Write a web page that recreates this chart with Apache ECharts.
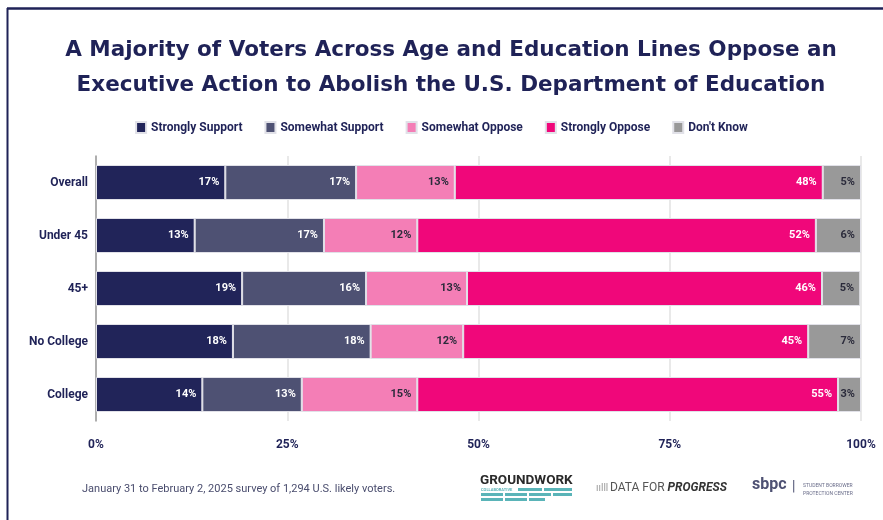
<!DOCTYPE html>
<html>
<head>
<meta charset="utf-8">
<script src="https://cdn.jsdelivr.net/npm/echarts@6/dist/echarts.min.js"></script>
<style>
html,body{margin:0;padding:0;background:#fff;}
#c{width:883px;height:520px;}
</style>
</head>
<body>
<div id="c"></div>
<script>
var categories = ['Overall', 'Under 45', '45+', 'No College', 'College'];
var seriesNames = ['Strongly Support', 'Somewhat Support', 'Somewhat Oppose', 'Strongly Oppose', "Don't Know"];
var stronglySupport = [16.9, 12.9, 19.1, 17.9, 13.9];
var somewhatSupport = [17.1, 16.9, 16.2, 18.0, 13.0];
var somewhatOppose = [12.9, 12.2, 13.2, 12.1, 15.1];
var stronglyOppose = [48.1, 52.1, 46.4, 45.1, 55.0];
var dontKnow = [5.0, 5.9, 5.0, 6.9, 3.0];
var xTicks = [0, 25, 50, 75, 100];

var colors = ['#212459', '#4e5173', '#f47eb6', '#f0077a', '#999999'];
var labelColors = ['#ffffff', '#ffffff', '#2b2b3b', '#ffffff', '#2b2b3b'];
var values = [stronglySupport, somewhatSupport, somewhatOppose, stronglyOppose, dontKnow];
var NAVY = '#1f2257';
var FONT = 'Roboto, "Noto Sans", sans-serif';

var chart = echarts.init(document.getElementById('c'));
var series = seriesNames.map(function (name, i) {
  return {
    name: name,
    type: 'bar',
    stack: 'total',
    barWidth: 35,
    data: values[i].slice().reverse(),
    itemStyle: { color: colors[i], borderColor: 'rgba(225,225,232,1)', borderWidth: 1 },
    label: {
      show: true,
      position: 'insideRight',
      distance: 6,
      color: labelColors[i],
      fontFamily: FONT,
      fontWeight: 'bold',
      fontSize: 11,
      formatter: function (p) { return Math.round(p.value) + '%'; }
    }
  };
});

chart.setOption({
  backgroundColor: '#ffffff',
  animation: false,
  title: {
    text: 'A Majority of Voters Across Age and Education Lines Oppose an\nExecutive Action to Abolish the U.S. Department of Education',
    left: 446,
    textAlign: 'center',
    top: 28,
    textStyle: { color: NAVY, fontFamily: '"DejaVu Sans", sans-serif', fontWeight: 'bold', fontSize: 21.5, lineHeight: 35 }
  },
  legend: {
    top: 116,
    left: 'center',
    itemWidth: 10,
    itemHeight: 11,
    itemGap: 22,
    icon: 'rect',
    data: seriesNames,
    textStyle: { color: NAVY, fontFamily: FONT, fontWeight: 'bold', fontSize: 12 }
  },
  grid: { left: 96, right: 22, top: 156, bottom: 99 },
  xAxis: {
    type: 'value',
    min: 0,
    max: 100,
    interval: 25,
    axisLine: { show: false },
    axisTick: { show: false },
    splitLine: { show: true, lineStyle: { color: '#e2e2e2', width: 1.5 } },
    axisLabel: {
      margin: 18,
      color: NAVY,
      fontFamily: FONT,
      fontWeight: 'bold',
      fontSize: 12,
      formatter: function (v) { return xTicks.indexOf(v) >= 0 ? v + '%' : ''; }
    }
  },
  yAxis: {
    type: 'category',
    data: categories.slice().reverse(),
    axisLine: { show: true, lineStyle: { color: '#9a9a9a', width: 1.5 } },
    axisTick: { show: false },
    axisLabel: { margin: 8, color: NAVY, fontFamily: FONT, fontWeight: 'bold', fontSize: 12 }
  },
  series: series,
  graphic: [
    { type: 'line', shape: { x1: 7, y1: 8.5, x2: 883, y2: 8.5 }, style: { stroke: NAVY, lineWidth: 2.5 } },
    { type: 'line', shape: { x1: 7.5, y1: 8, x2: 7.5, y2: 520 }, style: { stroke: NAVY, lineWidth: 2 } },
    { type: 'text', left: 82, top: 484, style: { text: 'January 31 to February 2, 2025 survey of 1,294 U.S. likely voters.', fill: '#4a4d6e', font: '11px ' + FONT } },
    { type: 'text', left: 480, top: 474, style: { text: 'GROUNDWORK', fill: '#2a2a2a', font: 'bold 13.5px ' + FONT } },
    { type: 'text', left: 481, top: 488, style: { text: 'COLLABORATIVE', fill: '#5ab4b8', font: 'bold 4px ' + FONT } },
    { type: 'rect', shape: { x: 518, y: 488, width: 24, height: 3 }, style: { fill: '#5ab4b8' } },
    { type: 'rect', shape: { x: 544, y: 488, width: 28, height: 3 }, style: { fill: '#5ab4b8' } },
    { type: 'rect', shape: { x: 481, y: 493, width: 22, height: 3 }, style: { fill: '#5ab4b8' } },
    { type: 'rect', shape: { x: 505, y: 493, width: 22, height: 3 }, style: { fill: '#5ab4b8' } },
    { type: 'rect', shape: { x: 529, y: 493, width: 22, height: 3 }, style: { fill: '#5ab4b8' } },
    { type: 'rect', shape: { x: 553, y: 493, width: 19, height: 3 }, style: { fill: '#5ab4b8' } },
    { type: 'rect', shape: { x: 481, y: 498, width: 22, height: 3 }, style: { fill: '#5ab4b8' } },
    { type: 'rect', shape: { x: 505, y: 498, width: 22, height: 3 }, style: { fill: '#5ab4b8' } },
    { type: 'rect', shape: { x: 529, y: 498, width: 16, height: 3 }, style: { fill: '#5ab4b8' } },
    { type: 'text', left: 596, top: 483, style: { text: 'ıılll', fill: '#9a9a9a', font: '10px ' + FONT } },
    { type: 'text', left: 610, top: 482, style: { rich: { a: { fill: '#555', font: '12px ' + FONT }, b: { fill: '#333', font: 'italic bold 12px ' + FONT } }, text: '{a|DATA FOR }{b|PROGRESS}' } },
    { type: 'text', left: 752, top: 477, style: { text: 'sbpc', fill: '#4e5173', font: 'bold 16px ' + FONT } },
    { type: 'text', left: 792, top: 480, style: { text: '|', fill: '#4e5173', font: '14px ' + FONT } },
    { type: 'text', left: 803, top: 482, style: { text: 'STUDENT BORROWER\nPROTECTION CENTER', fill: '#6a6d8a', font: '5px ' + FONT, lineHeight: 8 } }
  ]
});
</script>
</body>
</html>
